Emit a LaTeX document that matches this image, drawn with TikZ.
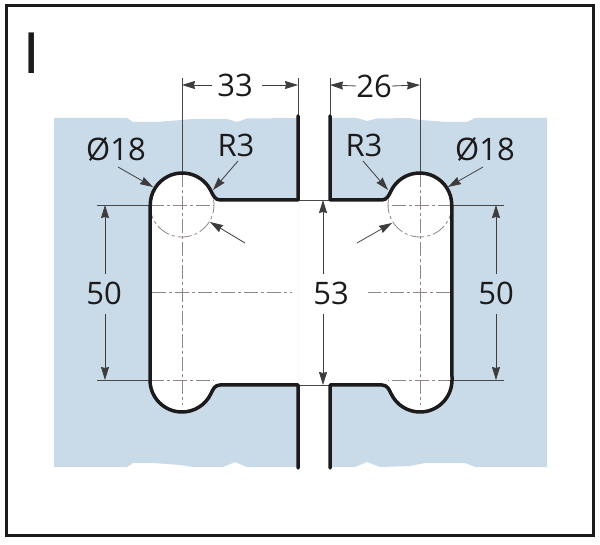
\documentclass[tikz,border=0pt]{standalone}
\usepackage{fontspec}
\setmainfont{Open Sans}
\usetikzlibrary{arrows.meta}
\definecolor{glassblue}{HTML}{C9DAE9}
\definecolor{inkblack}{HTML}{1C1A1A}
\definecolor{axisgrey}{HTML}{8F8683}
\tikzset{
  framerect/.style = {draw = inkblack, line width = 3pt},
  profileline/.style = {draw = inkblack, line width = 3.5pt, line join = round, line cap = round},
  extline/.style = {draw = inkblack!80, line width = .8pt},
  dimarrow/.style = {draw = inkblack!85, line width = .8pt, -{Stealth[length = 13pt, width = 8pt, inset = 1pt]}},
  leaderarrow/.style = {draw = inkblack!85, line width = .8pt, -{Stealth[length = 13pt, width = 8pt, inset = 1pt]}},
  axisline/.style = {draw = axisgrey, line width = .8pt, dash pattern = on 14pt off 3pt on 3pt off 3pt},
  dimtext/.style = {inner sep = 0pt, text = inkblack, font = \fontsize{31}{31}\selectfont}
}
\begin{document}
\begin{tikzpicture}[x = 1pt, y = 1pt]
    \useasboundingbox (0,0) rectangle (600,544);
    \def\radius{32}
    \def\partleft{(298,344) -- (220,344) .. controls (215,344) and (213,349) .. (211,353)
      arc[start angle = 26, end angle = 180, radius = \radius] -- (150,164)
      arc[start angle = 180, end angle = 334, radius = \radius]
      .. controls (213,155) and (215,159) .. (220,159) -- (298,159)}
    \def\partright{(330,344) -- (382,344) .. controls (387,344) and (389,349) .. (391,353)
      arc[start angle = 154, end angle = 0, radius = \radius] -- (452,164)
      arc[start angle = 0, end angle = -154, radius = \radius]
      .. controls (389,155) and (387,159) .. (382,159) -- (330,159)}

    \fill[glassblue] (54,426) -- (127,426) -- (133,422) -- (157,422) -- (193,425) -- (227,425)
      -- (237,422) -- (247,425.5) -- (298,426) -- (298,77) -- (247,77) -- (235,82) -- (223,77)
      -- (193,77) -- (180,79) -- (153,81) -- (133,81) -- (127,77) -- (54,77) -- cycle;
    \fill[glassblue] (330,426) -- (357,426) -- (367,423) -- (377,425.5) -- (410,426) -- (420,424)
      -- (447,422) -- (467,422) -- (475,426) -- (547,426) -- (547,77) -- (475,77) -- (465,81)
      -- (425,81) -- (410,78) -- (380,77) -- (367,82) -- (355,77) -- (330,77) -- cycle;
    \fill[white] \partleft -- cycle;
    \fill[white] \partright -- cycle;

    \node[framerect, inner sep = 0pt, minimum width = 587pt, minimum height = 529pt] (frame) at (299.5,273.5) {};
    \node[inner sep = 0pt, text = inkblack, font = \fontsize{59}{59}\selectfont\fontspec{Liberation Sans}] (mark) at (32,491) {I};

    \coordinate (lefttop) at (182,371);
    \coordinate (leftgap) at (182,466);
    \coordinate (glassl) at (298,428);
    \coordinate (glasslend) at (298,466);
    \coordinate (glassr) at (330,428);
    \coordinate (glassrend) at (330,466);
    \coordinate (righttop) at (420,371);
    \coordinate (rightgap) at (420,466);
    \draw[extline] (leftgap) -- (lefttop);
    \draw[extline] (glasslend) -- (glassl);
    \draw[extline] (glassrend) -- (glassr);
    \draw[extline] (rightgap) -- (righttop);

    \draw[axisline] (182,371) -- (182,139);
    \draw[axisline] (420,371) -- (420,139);
    \draw[axisline] (152,252) -- (292,252);
    \draw[axisline] (450,252) -- (368,252);
    \draw[axisline] (150,339) -- (214,339);
    \draw[axisline] (452,339) -- (388,339);
    \draw[axisline] (150,164) -- (214,164);
    \draw[axisline] (452,164) -- (388,164);
    \draw[axisline] (150,339) arc[start angle = 180, end angle = 386, radius = \radius];
    \draw[axisline] (452,339) arc[start angle = 0, end angle = -206, radius = \radius];

    \coordinate (hl) at (97,339);
    \coordinate (hle) at (150,339);
    \coordinate (ll) at (97,164);
    \coordinate (lle) at (150,164);
    \coordinate (hr) at (504,339);
    \coordinate (hre) at (452,339);
    \coordinate (lr) at (504,164);
    \coordinate (lre) at (452,164);
    \coordinate (hm) at (298,344);
    \coordinate (hme) at (330,344);
    \coordinate (lm) at (298,159);
    \coordinate (lme) at (330,159);
    \draw[extline] (hl) -- (hle);
    \draw[extline] (ll) -- (lle);
    \draw[extline] (hr) -- (hre);
    \draw[extline] (lr) -- (lre);
    \draw[extline] (hm) -- (hme);
    \draw[extline] (lm) -- (lme);

    \node[dimtext] (w33) at (235,459) {33};
    \node[dimtext] (w26) at (374,458) {26};
    \node[dimtext] (h50l) at (104,251) {50};
    \node[dimtext] (h53) at (331,251) {53};
    \node[dimtext] (h50r) at (496,251) {50};
    \node[dimtext] (dial) at (116,395) {Ø18};
    \node[dimtext] (dial2) at (485,395) {Ø18};
    \node[dimtext] (rl) at (236,399) {R3};
    \node[dimtext] (rr) at (364,399) {R3};

    \draw[dimarrow] (212,459) -- (182,459);
    \draw[dimarrow] (262,459) -- (298,459);
    \draw[dimarrow] (w26.west) -- (330,459);
    \draw[dimarrow] (w26.east) -- (420,459);
    \draw[dimarrow] (105,270) -- (105,339);
    \draw[dimarrow] (105,230) -- (105,164);
    \draw[dimarrow] (323,270) -- (323,344);
    \draw[dimarrow] (323,230) -- (323,159);
    \draw[dimarrow] (496,270) -- (496,339);
    \draw[dimarrow] (496,230) -- (496,164);

    \draw[leaderarrow] (118,377) -- (153,357);
    \draw[leaderarrow] (238,383) -- (213,354);
    \draw[leaderarrow] (245,301) -- (210,322);
    \draw[leaderarrow] (483,377) -- (448,357);
    \draw[leaderarrow] (363,383) -- (388,354);
    \draw[leaderarrow] (357,301) -- (392,321);

    \draw[profileline] (298,428) -- \partleft -- (298,76);
    \draw[profileline] (330,428) -- \partright -- (330,76);
  \end{tikzpicture}
\end{document}
